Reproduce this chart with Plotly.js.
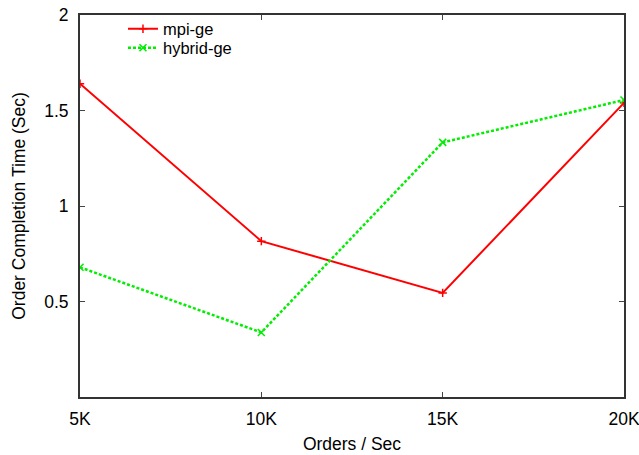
<!DOCTYPE html>
<html>
<head>
<meta charset="utf-8">
<script src="https://cdn.plot.ly/plotly-3.0.1.min.js"></script>
<style>html,body{margin:0;padding:0;background:#fff;}#chart{width:639px;height:455px;}</style>
</head>
<body>
<div id="chart"></div>
<script>
const categories = [5, 10, 15, 20];
const tickLabels = ['5K', '10K', '15K', '20K'];
const yTicks = [0.5, 1, 1.5, 2];
const yTickLabels = ['0.5', '1', '1.5', '2'];
const mpiGe = [1.64, 0.816, 0.545, 1.54];
const hybridGe = [0.679, 0.338, 1.333, 1.555];

const FAM = 'Liberation Sans, Arial, sans-serif';
const font = {family: FAM, size: 17.5, color: '#000'};

const traces = [
  {x: categories, y: mpiGe, name: 'mpi-ge', mode: 'lines+markers', legend: 'legend',
   line: {color: '#ff0000', width: 2},
   marker: {symbol: 'cross-thin', size: 6, color: '#ff0000', line: {color: '#ff0000', width: 1.5}}},
  {x: categories, y: hybridGe, name: 'hybrid-ge', mode: 'lines+markers', legend: 'legend2',
   line: {color: '#00ee00', width: 2.5, dash: '3px,2px'},
   marker: {symbol: 'x-thin', size: 7, color: '#00ee00', line: {color: '#00ee00', width: 1.5}}}
];

const legBase = {xanchor: 'left', yanchor: 'middle', bgcolor: 'rgba(0,0,0,0)',
                 font: {family: FAM, size: 16.5, color: '#000'}};

const layout = {
  width: 639, height: 455,
  margin: {l: 80, r: 15, t: 14, b: 58},
  paper_bgcolor: '#fff', plot_bgcolor: '#fff',
  font: font,
  showlegend: true,
  legend: Object.assign({x: 0.079, y: (397 - 29) / 383}, legBase),
  legend2: Object.assign({x: 0.079, y: (397 - 48) / 383}, legBase),
  xaxis: {
    range: [5, 20], tickvals: categories, ticktext: tickLabels,
    ticks: 'inside', ticklen: 5, tickcolor: '#444', tickwidth: 1,
    showline: true, linecolor: '#333', linewidth: 2, mirror: 'ticks',
    showgrid: false, zeroline: false, ticklabelstandoff: 5,
    ticklabeloverflow: 'allow',
    tickfont: font,
    title: {text: 'Orders / Sec', font: font, standoff: 10}
  },
  yaxis: {
    range: [0, 2], tickvals: yTicks, ticktext: yTickLabels,
    ticks: 'inside', ticklen: 5, tickcolor: '#444', tickwidth: 1,
    showline: true, linecolor: '#333', linewidth: 2, mirror: 'ticks',
    showgrid: false, zeroline: false, ticklabelstandoff: 6,
    tickfont: font,
    title: {text: 'Order Completion Time (Sec)', font: font, standoff: 14}
  }
};

Plotly.newPlot('chart', traces, layout, {displayModeBar: false, staticPlot: true});
</script>
</body>
</html>
